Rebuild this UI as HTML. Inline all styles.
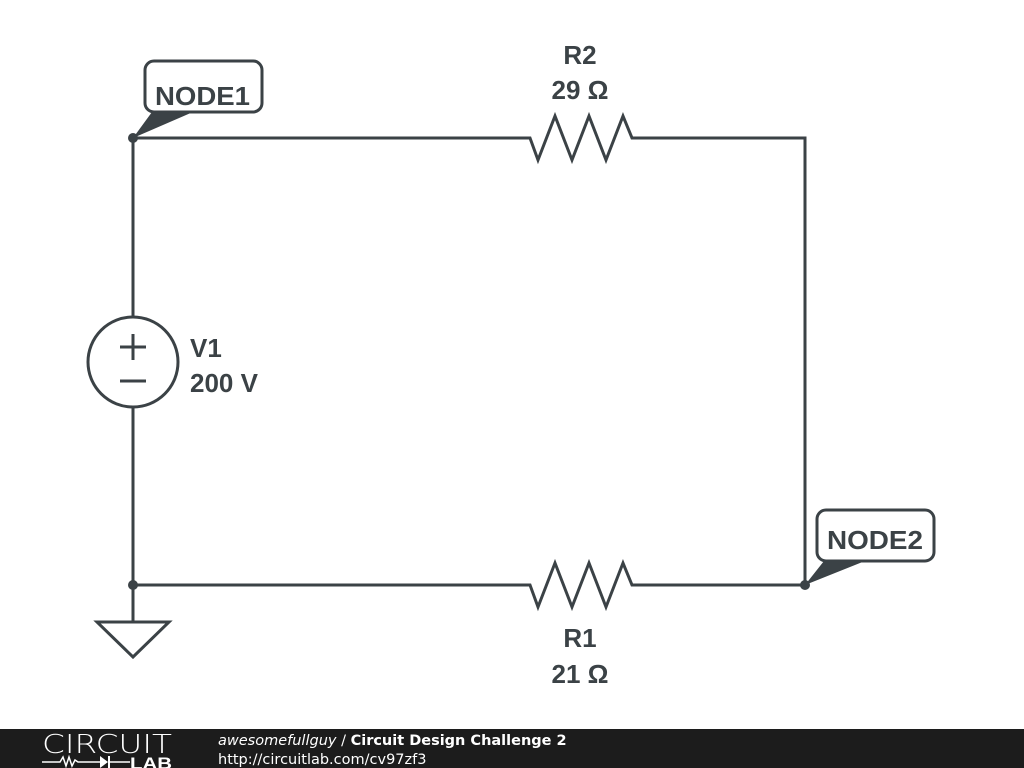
<!DOCTYPE html>
<html><head><style>
body{margin:0;width:1024px;height:768px;background:#fff;overflow:hidden;font-family:"Liberation Sans",sans-serif}
</style></head><body>
<svg width="1024" height="768" viewBox="0 0 1024 768" style="position:absolute;left:0;top:0">
<g stroke="#3b4246" stroke-width="3" fill="none" stroke-linejoin="miter">
<polyline points="133,138 530,138 538,160 555,116 572,160 589,116 606,160 623,116 632,138 805,138 805,585 632,585 623,563 606,607 589,563 572,607 555,563 538,607 530,585 133,585 133,622"/>
<line x1="133" y1="138" x2="133" y2="317"/>
<line x1="133" y1="407" x2="133" y2="585"/>
<circle cx="133" cy="362" r="45"/>
<line x1="120" y1="347" x2="146" y2="347"/><line x1="133" y1="334" x2="133" y2="360"/>
<line x1="120" y1="381" x2="146" y2="381"/>
<polygon points="97,622 169,622 133,657"/>
<rect x="145" y="61" width="117" height="51" rx="9"/>
<rect x="817" y="510" width="117" height="51" rx="9"/>
</g>
<g fill="#3b4246">
<circle cx="133" cy="138" r="5"/><circle cx="133" cy="585" r="5"/><circle cx="805" cy="585" r="5"/>
<polygon points="133,138 152,112 193,112"/>
<polygon points="805,585 824,561 865,561"/>
</g>
<g fill="#3b4246" font-weight="bold" font-size="26">
<text x="155" y="105" textLength="95" lengthAdjust="spacingAndGlyphs">NODE1</text>
<text x="827" y="549" textLength="96" lengthAdjust="spacingAndGlyphs">NODE2</text>
<text x="580" y="64" text-anchor="middle">R2</text>
<text x="580" y="99" text-anchor="middle">29 Ω</text>
<text x="580" y="647" text-anchor="middle">R1</text>
<text x="580" y="683" text-anchor="middle">21 Ω</text>
<text x="190" y="357">V1</text>
<text x="190" y="392">200 V</text>
</g>
<rect x="0" y="729" width="1024" height="39" fill="#1c1c1c"/>
<text x="42" y="753" fill="#fff" font-size="26" font-family="DejaVu Sans" font-weight="200" textLength="130" lengthAdjust="spacingAndGlyphs">CIRCUIT</text>
<polyline points="42,762 60,762 63,757 66,766 69,757 72,766 75,760 78,762 100,762" stroke="#fff" stroke-width="1.5" fill="none"/>
<polygon points="100,756 100,768 108,762" fill="#fff"/><line x1="109" y1="756" x2="109" y2="768" stroke="#fff" stroke-width="2"/>
<line x1="109" y1="762" x2="130" y2="762" stroke="#fff" stroke-width="1.5"/>
<text x="130" y="769" fill="#fff" font-size="17" font-weight="bold" textLength="42" lengthAdjust="spacingAndGlyphs">LAB</text>
<text x="218" y="745" fill="#fff" font-size="14.5" font-family="DejaVu Sans"><tspan font-style="italic">awesomefullguy</tspan> / <tspan font-weight="bold">Circuit Design Challenge 2</tspan></text>
<text x="218" y="764" fill="#fff" font-size="14.5" font-family="DejaVu Sans">http://circuitlab.com/cv97zf3</text>
</svg>
</body></html>
